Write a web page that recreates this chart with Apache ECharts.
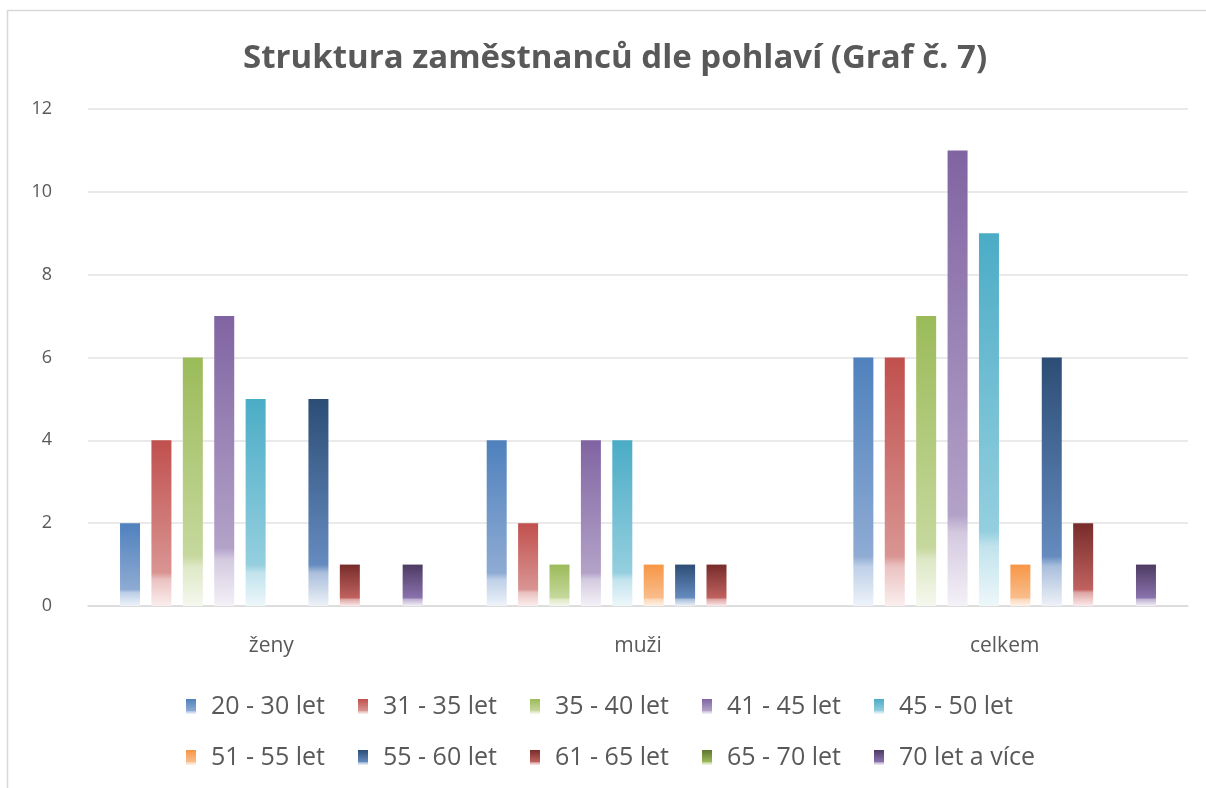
<!DOCTYPE html>
<html>
<head>
<meta charset="utf-8">
<script src="https://cdn.jsdelivr.net/npm/echarts@6/dist/echarts.min.js"></script>
<style>
  html, body { margin: 0; padding: 0; background: #fff; }
  #chart { width: 1206px; height: 788px; }
</style>
</head>
<body>
<div id="chart"></div>
<script>
// kategorie a skupiny
const categories = ['ženy', 'muži', 'celkem']
const groupNames = ['20 - 30 let', '31 - 35 let', '35 - 40 let', '41 - 45 let', '45 - 50 let',
  '51 - 55 let', '55 - 60 let', '61 - 65 let', '65 - 70 let', '70 let a více']

// hodnoty: [ženy, muži, celkem]
const v20_30 = [2, 4, 6]
const v31_35 = [4, 2, 6]
const v35_40 = [6, 1, 7]
const v41_45 = [7, 4, 11]
const v45_50 = [5, 4, 9]
const v51_55 = [0, 1, 1]
const v55_60 = [5, 1, 6]
const v61_65 = [1, 1, 2]
const v65_70 = [0, 0, 0]
const v70plus = [1, 0, 1]
const seriesValues = [v20_30, v31_35, v35_40, v41_45, v45_50, v51_55, v55_60, v61_65, v65_70, v70plus]

const yTicks = { min: 0, max: 12, interval: 2 }

// barvy přechodu: horní, střední, spodní
const palette = [
  ['#4f81bd', '#8eabd3', '#eef3fa'],
  ['#c0504d', '#d99593', '#fbeeee'],
  ['#9bbb59', '#c6d89d', '#f5f8ee'],
  ['#8064a2', '#b3a2c8', '#f4f1f7'],
  ['#4bacc6', '#94cfdf', '#eef7fa'],
  ['#f79646', '#f9bd8c', '#fef2e8'],
  ['#2c4d75', '#658bbf', '#eef2f8'],
  ['#772c2a', '#c0625f', '#fbeaea'],
  ['#5f7530', '#9bbb59', '#f3f7ea'],
  ['#4d3b62', '#8a72ad', '#f3f0f7']
]

function grad(c) {
  return new echarts.graphic.LinearGradient(0, 0, 0, 1, [
    { offset: 0, color: c[0] },
    { offset: 0.8, color: c[1] },
    { offset: 0.84, color: echarts.color.lerp(0.5, [c[1], c[2]]) },
    { offset: 1, color: c[2] }
  ])
}

const chart = echarts.init(document.getElementById('chart'))
const textColor = '#595959'
const fontFamily = '"Open Sans", "Noto Sans", sans-serif'

// jedna legenda na řádek
function legendRow(top, names) {
  return {
    top: top,
    left: 181,
    padding: 5,
    itemWidth: 10,
    itemHeight: 15,
    itemGap: 7,
    icon: 'rect',
    formatter: (name) => '{a|' + name + '}',
    textStyle: {
      rich: {
        a: {
          width: 140,
          padding: [0, 0, 0, 10],
          lineHeight: 30,
          color: textColor,
          fontSize: 25,
          fontFamily: fontFamily
        }
      }
    },
    data: names
  }
}

const option = {
  backgroundColor: '#fff',
  animation: false,
  title: {
    text: 'Struktura zaměstnanců dle pohlaví (Graf č. 7)',
    left: 238,
    top: 37,
    textStyle: {
      color: textColor,
      fontSize: 33,
      fontWeight: 'bold',
      fontFamily: fontFamily
    }
  },
  graphic: [{
    type: 'rect',
    shape: { x: 7.5, y: 10.5, width: 1220, height: 800 },
    style: { fill: 'none', stroke: '#d9d9d9', lineWidth: 1.5 },
    silent: true
  }],
  grid: {
    left: 88,
    right: 18,
    top: 109,
    bottom: 182
  },
  legend: [
    legendRow(689, groupNames.slice(0, 5)),
    legendRow(740, groupNames.slice(5))
  ],
  xAxis: {
    type: 'category',
    data: categories,
    axisTick: { show: false },
    axisLine: { lineStyle: { color: '#d9d9d9', width: 1.5 } },
    axisLabel: {
      color: textColor,
      fontSize: 21,
      fontFamily: fontFamily,
      margin: 30
    }
  },
  yAxis: {
    type: 'value',
    min: yTicks.min,
    max: yTicks.max,
    interval: yTicks.interval,
    axisLine: { show: false },
    axisTick: { show: false },
    splitLine: { lineStyle: { color: '#e3e3e3', width: 1.5 } },
    axisLabel: {
      color: textColor,
      fontSize: 18,
      fontFamily: fontFamily,
      margin: 36
    }
  },
  series: groupNames.map((name, i) => ({
    name: name,
    type: 'bar',
    data: seriesValues[i],
    barWidth: 20,
    barGap: '57%',
    barCategoryGap: '17%',
    itemStyle: { color: grad(palette[i]) }
  }))
}

chart.setOption(option)
</script>
</body>
</html>
